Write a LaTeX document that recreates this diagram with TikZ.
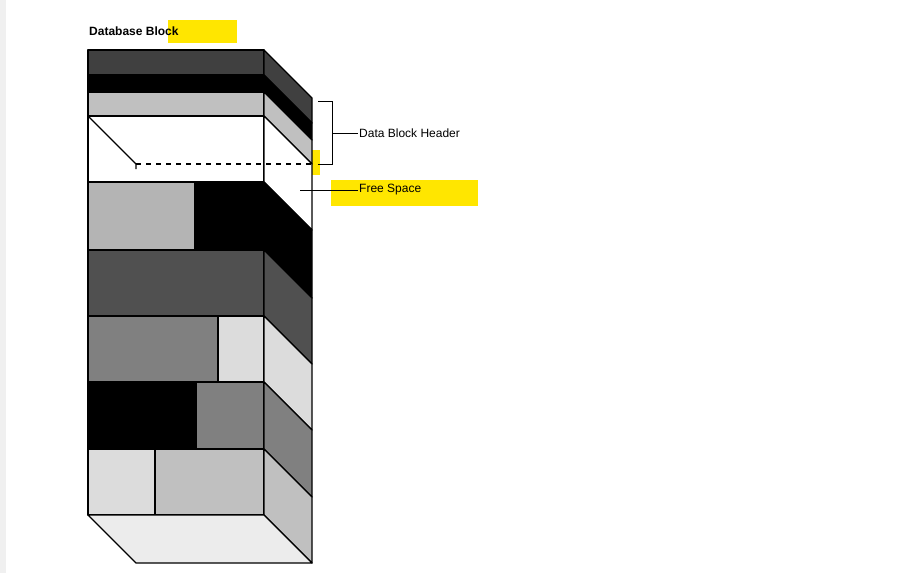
\documentclass[tikz,border=0pt]{standalone}
\usepackage{fontspec}
\setmainfont{Liberation Sans}
\usetikzlibrary{positioning}
\definecolor{hilite}{HTML}{FFE600}
\definecolor{gA}{HTML}{404040}
\definecolor{gB}{HTML}{505050}
\definecolor{gC}{HTML}{808080}
\definecolor{gD}{HTML}{B4B4B4}
\definecolor{gE}{HTML}{C0C0C0}
\definecolor{gF}{HTML}{DCDCDC}
\definecolor{gG}{HTML}{ECECEC}
\tikzset{cell/.style={draw=black, line width=1.3pt, line join=round},
         lbl/.style={inner sep=1pt, anchor=west, font=\fontsize{12}{14}\selectfont}}
\begin{document}
\begin{tikzpicture}[x=1pt, y=-1pt]
	\useasboundingbox (0,0) rectangle (913,573);
	\fill[gray!12] (0,0) rectangle (6,573);
	% highlights
	\begin{scope}[every path/.style={fill=hilite}]
		\path (168,20) rectangle (237,43);
		\path (117,150) rectangle (320,175);
		\path (331,180) rectangle (478,206);
	\end{scope}
	\node[lbl, font=\bfseries\fontsize{12}{14}\selectfont] (title) at (88,31) {Database Block};

	% front rows
	\begin{scope}[every path/.style={cell}]
		\path[fill=gA] (88,50) rectangle (264,75);
		\path[fill=black] (88,75) rectangle (264,92);
		\path[fill=gE] (88,92) rectangle (264,116);
		\path[fill=white] (88,116) rectangle (264,182);
		\path[fill=gD] (88,182) rectangle (195,250);
		\path[fill=black] (195,182) rectangle (264,250);
		\path[fill=gB] (88,250) rectangle (264,316);
		\path[fill=gC] (88,316) rectangle (218,382);
		\path[fill=gF] (218,316) rectangle (264,382);
		\path[fill=black] (88,382) rectangle (196,449);
		\path[fill=gC] (196,382) rectangle (264,449);
		\path[fill=gF] (88,449) rectangle (155,515);
		\path[fill=gE] (155,449) rectangle (264,515);
	\end{scope}

	% side strips
	\begin{scope}[every path/.style={cell}]
		\foreach \ya/\yb/\col in {50/75/gA, 75/92/black, 92/116/gE, 116/182/white,
		                        182/250/black, 250/316/gB, 316/382/gF, 382/449/gC, 449/515/gE}
			{\path[fill=\col] (264,\ya) -- (312,\ya+48) -- (312,\yb+48) -- (264,\yb) -- cycle;}
		\path[fill=gG] (88,515) -- (264,515) -- (312,563) -- (136,563) -- cycle;
	\end{scope}

	% free space interior
	\coordinate (inA) at (136,164);
	\draw[line width=1.2pt] (88,116) -- (inA) -- ++(0,5);
	\draw[line width=1.5pt, dash pattern=on 5pt off 5pt] (inA) -- (312,164);

	% labels
	\node[lbl] (hdr) at (358,133) {Data Block Header};
	\node[lbl] (free) at (358,190) {Free Space};
	\coordinate (brT) at (318,101);
	\coordinate (brB) at (318,164);
	\draw[line width=0.8pt] (brT) -- ++(14,0) -- ++(0,63) -- (brB);
	\draw[line width=0.8pt] (332,133) -- (hdr.west);
	\coordinate (fsP) at (300,190);
	\draw[line width=0.8pt] (fsP) -- (free.west);
\end{tikzpicture}
\end{document}
